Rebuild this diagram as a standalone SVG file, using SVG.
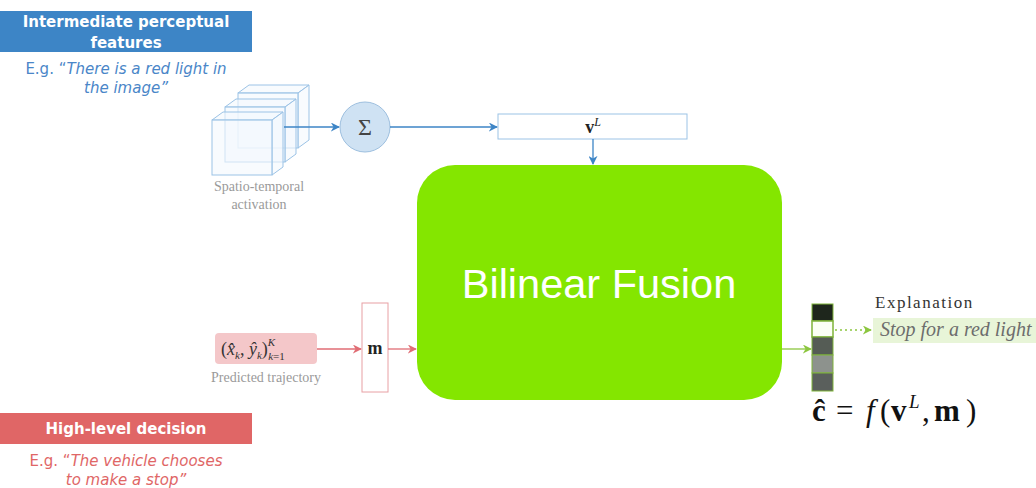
<svg xmlns="http://www.w3.org/2000/svg" width="1036" height="488" viewBox="0 0 1036 488">
  <defs>
    <style>
      .hdr { font-family: "DejaVu Sans", "Open Sans", sans-serif; font-weight: 700; font-size: 15px; fill: #ffffff; text-anchor: middle; }
      .sub { font-family: "DejaVu Sans", "Open Sans", sans-serif; font-size: 15px; text-anchor: middle; }
      .serif { font-family: "Liberation Serif", "DejaVu Serif", serif; }
      .cap { font-family: "Liberation Serif", "DejaVu Serif", serif; font-size: 14px; fill: #9a9a9a; text-anchor: middle; }
      .cube { fill: #f4f9fe; fill-opacity: 0.6; stroke: #9cc3e6; stroke-width: 1; }
      .blue { stroke: #3d85c6; stroke-width: 1.3; fill: none; }
      .red { stroke: #e06d74; stroke-width: 1.3; fill: none; }
      .green { stroke: #8cc63f; stroke-width: 1.3; fill: none; }
    </style>
    <marker id="ah-blue" viewBox="0 0 10 10" refX="9" refY="5" markerWidth="9" markerHeight="9" markerUnits="userSpaceOnUse" orient="auto">
      <path d="M0,0 L10,5 L0,10 L3,5 z" fill="#3d85c6"/>
    </marker>
    <marker id="ah-red" viewBox="0 0 10 10" refX="9" refY="5" markerWidth="9" markerHeight="9" markerUnits="userSpaceOnUse" orient="auto">
      <path d="M0,0 L10,5 L0,10 L3,5 z" fill="#e06d74"/>
    </marker>
    <marker id="ah-green" viewBox="0 0 10 10" refX="9" refY="5" markerWidth="9" markerHeight="9" markerUnits="userSpaceOnUse" orient="auto">
      <path d="M0,0 L10,5 L0,10 L3,5 z" fill="#8cc63f"/>
    </marker>
  </defs>

  <rect width="1036" height="488" fill="#ffffff"/>

  <!-- perceptual features header -->
  <g id="perceptual-header">
    <rect x="0" y="11" width="252" height="41" fill="#3d85c6"/>
    <text class="hdr" x="126" y="27">Intermediate perceptual</text>
    <text class="hdr" x="126" y="48">features</text>
    <text class="sub" x="126" y="74" fill="#4a86c8">E.g. “<tspan font-style="italic">There is a red light in</tspan></text>
    <text class="sub" x="126" y="93" fill="#4a86c8" font-style="italic">the image”</text>
  </g>

  <!-- decision header -->
  <g id="decision-header">
    <rect x="0" y="413" width="252" height="31" fill="#e06666"/>
    <text class="hdr" x="126" y="434">High-level decision</text>
    <text class="sub" x="126" y="466" fill="#e06666">E.g. “<tspan font-style="italic">The vehicle chooses</tspan></text>
    <text class="sub" x="126" y="485" fill="#e06666" font-style="italic">to make a stop”</text>
  </g>

  <!-- stacked activation volumes -->
  <g id="activation">
    <g transform="translate(26,-27)">
      <path class="cube" d="M212,120 L223,112 L283,112 L272,120 z"/>
      <path class="cube" d="M272,120 L283,112 L283,167 L272,175 z"/>
      <rect class="cube" x="212" y="120" width="60" height="55"/>
    </g>
    <g transform="translate(13,-13)">
      <path class="cube" d="M212,120 L223,112 L283,112 L272,120 z"/>
      <path class="cube" d="M272,120 L283,112 L283,167 L272,175 z"/>
      <rect class="cube" x="212" y="120" width="60" height="55"/>
    </g>
    <g>
      <path class="cube" d="M212,120 L223,112 L283,112 L272,120 z"/>
      <path class="cube" d="M272,120 L283,112 L283,167 L272,175 z"/>
      <rect class="cube" x="212" y="120" width="60" height="55"/>
    </g>
    <text class="cap" x="259" y="191">Spatio-temporal</text>
    <text class="cap" x="259" y="209">activation</text>
  </g>

  <!-- summation -->
  <g id="sum">
    <circle cx="365" cy="127" r="25" fill="#cfe2f3" stroke="#9dbfdf" stroke-width="1"/>
    <text class="serif" x="365" y="135" font-size="24" fill="#444444" text-anchor="middle">Σ</text>
  </g>

  <!-- pooled feature vector -->
  <g id="vL">
    <rect x="498" y="114" width="189" height="25" fill="#ffffff" stroke="#9cc3e6" stroke-width="1"/>
    <text class="serif" x="593" y="133" font-size="18" fill="#222222" text-anchor="middle"><tspan font-weight="700">v</tspan><tspan font-style="italic" font-size="12" dy="-7">L</tspan></text>
  </g>

  <!-- fusion block -->
  <g id="fusion">
    <rect x="417" y="165" width="365" height="235" rx="38" ry="38" fill="#84e600"/>
    <text x="599" y="298" font-family="Liberation Sans, Arial, sans-serif" font-size="41.5" fill="#ffffff" text-anchor="middle">Bilinear Fusion</text>
  </g>

  <!-- trajectory input -->
  <g id="trajectory">
    <rect x="215" y="333" width="102" height="31" rx="4" fill="#f4c7c9"/>
    <text class="serif" x="221" y="355" font-size="18" fill="#333333">(<tspan font-style="italic">x̂</tspan><tspan font-style="italic" font-size="11" dy="4">k</tspan><tspan dy="-4">, </tspan><tspan font-style="italic">ŷ</tspan><tspan font-style="italic" font-size="11" dy="4">k</tspan><tspan dy="-4">)</tspan><tspan font-style="italic" font-size="11" dy="-9">K</tspan><tspan font-size="11" dx="-7" dy="14"><tspan font-style="italic">k</tspan>=1</tspan></text>
    <text class="cap" x="266" y="382" font-size="15">Predicted trajectory</text>
  </g>

  <!-- motion vector -->
  <g id="m">
    <rect x="362" y="303" width="26" height="89" fill="#ffffff" stroke="#e8a0a4" stroke-width="1"/>
    <text class="serif" x="375" y="354" font-size="18" font-weight="700" fill="#222222" text-anchor="middle">m</text>
  </g>

  <!-- explanation scores -->
  <g id="scores">
    <rect x="812" y="304" width="21" height="17" fill="#1e261c" stroke="#7fb33a" stroke-width="1"/>
    <rect x="812" y="321" width="21" height="16" fill="#fbfff5" stroke="#7fb33a" stroke-width="1.5"/>
    <rect x="812" y="337" width="21" height="18" fill="#555c55" stroke="#7fb33a" stroke-width="1"/>
    <rect x="812" y="355" width="21" height="18" fill="#8d928d" stroke="#7fb33a" stroke-width="1"/>
    <rect x="812" y="373" width="21" height="18" fill="#5a5f5c" stroke="#7fb33a" stroke-width="1"/>
    <text class="serif" y="421" font-size="31" fill="#111111"><tspan x="812" font-weight="700">ĉ</tspan><tspan x="836">=</tspan><tspan x="866" font-style="italic">f</tspan><tspan x="880">(</tspan><tspan x="891" font-weight="700">v</tspan><tspan x="909" font-style="italic" font-size="19" dy="-13">L</tspan><tspan x="922" dy="13">,</tspan><tspan x="934" font-weight="700">m</tspan><tspan x="966">)</tspan></text>
  </g>

  <!-- explanation text -->
  <g id="explanation">
    <text class="serif" x="875" y="308" font-size="17" fill="#333333" letter-spacing="1.5">Explanation</text>
    <rect x="873" y="318" width="163" height="25" fill="#e8f5d8"/>
    <text class="serif" x="880" y="336" font-size="20" font-style="italic" fill="#6d6d6d">Stop for a red light</text>
  </g>

  <!-- connectors -->
  <g id="connectors">
    <line class="blue" x1="284" y1="127" x2="339" y2="127" marker-end="url(#ah-blue)"/>
    <line class="blue" x1="390" y1="127" x2="497" y2="127" marker-end="url(#ah-blue)"/>
    <line class="blue" x1="593" y1="139" x2="593" y2="164" marker-end="url(#ah-blue)"/>
    <line class="red" x1="317" y1="349" x2="361" y2="349" marker-end="url(#ah-red)"/>
    <line class="red" x1="388" y1="349" x2="416" y2="349" marker-end="url(#ah-red)"/>
    <line class="green" x1="782" y1="349" x2="811" y2="349" marker-end="url(#ah-green)"/>
    <line class="green" x1="835" y1="330" x2="871" y2="330" stroke-dasharray="2,3" marker-end="url(#ah-green)"/>
  </g>
</svg>
